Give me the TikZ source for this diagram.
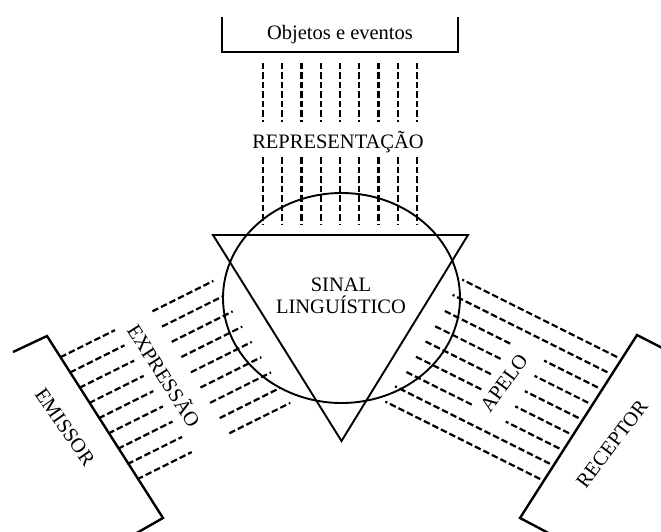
\documentclass[tikz,border=0pt]{standalone}
\usepackage{fontspec}
\setmainfont{Liberation Serif}
\begin{document}
\begin{tikzpicture}[x=1pt,y=-1pt,
  brk/.style={line width=2.4pt, line join=miter},
  outl/.style={line width=1.9pt},
  dsh/.style={line width=2.2pt, dash pattern=on 6.5pt off 3pt},
  lbl/.style={font=\fontsize{20.5}{24}\selectfont, inner sep=0pt}]
\useasboundingbox (0,0) rectangle (661,532);
\clip (0,0) rectangle (661,532);
% top bracket
\draw[brk] (222,17) -- (222,52) -- (458,52) -- (458,17);
\node[lbl, anchor=base] (obj) at (340,40) {Objetos e eventos};
% vertical dashed lines
\foreach \i in {0,...,8} {
  \coordinate (V\i) at ({263+19.25*\i},63);
  \draw[dsh] (V\i) -- ++(0,59) ++(0,35) -- ++(0,68);
}
\node[lbl, anchor=base] (rep) at (338,148.5) {REPRESENTAÇÃO};
% left dashed lines
\foreach \k in {0,...,8} {
  \coordinate (L\k) at ({60.3+9.6*\k},{357.3+15.25*\k});
  \draw[dsh] (L\k) -- ++(54.6,-27.2) ++(37.6,-18.8) -- ++(60.9,-30.4);
}
% right dashed lines
\foreach \k in {0,...,8} {
  \coordinate (R\k) at ({617-9.6*\k},{357+15.25*\k});
}
\foreach \k in {0,1,7,8} {
  \draw[dsh] (R\k) -- ++(-154.8,-77.4);
}
\foreach \k in {2,...,6} {
  \draw[dsh] (R\k) -- ++(-53.7,-26.9) ++(-34,-17) -- ++(-67.1,-33.5);
}
% circle and triangle
\draw[outl] (341.5,298) ellipse [x radius=118.5pt, y radius=105pt];
\draw[outl] (213,235) -- (468,235) -- (341.5,441) -- cycle;
\node[lbl, anchor=base] (sinal) at (341,291.5) {SINAL};
\node[lbl, anchor=base] (ling) at (341,313) {LINGUÍSTICO};
% side brackets
\draw[brk] (13,352) -- (47,336) -- (163,518) -- (128,538);
\draw[brk] (672,353) -- (637,335) -- (520,518) -- (556,537);
% rotated labels
\node[lbl, rotate=-57.4] (expr) at (165,375) {EXPRESSÃO};
\node[lbl, rotate=-55] (emis) at (65,427) {EMISSOR};
\node[lbl, rotate=54] (apelo) at (504,383) {APELO};
\node[lbl, rotate=53] (recep) at (612,444) {RECEPTOR};
\end{tikzpicture}
\end{document}
